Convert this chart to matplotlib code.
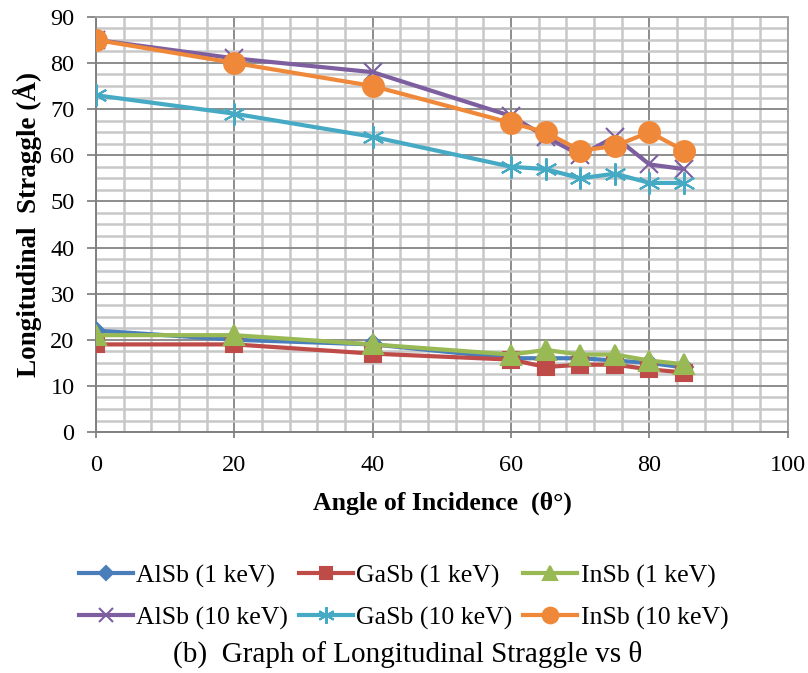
import numpy as np
import matplotlib.pyplot as plt
from matplotlib.ticker import MultipleLocator

plt.rcParams['font.family'] = ['Liberation Serif', 'DejaVu Serif']

angles = [0, 20, 40, 60, 65, 70, 75, 80, 85]

alsb_1 = [22, 20, 19, 16, 16, 16, 15.5, 15, 14]
gasb_1 = [19, 19, 17, 15.7, 14.1, 14.6, 14.6, 13.6, 12.9]
insb_1 = [21, 21, 19, 16.8, 17.8, 16.8, 16.8, 15.5, 14.7]
alsb_10 = [85, 81, 78, 68.5, 64, 60, 64, 58, 57]
gasb_10 = [73, 69, 64, 57.5, 57, 55, 56, 54, 54]
insb_10 = [85, 80, 75, 67, 65, 61, 62, 65, 61]

labels = ['AlSb (1 keV)', 'GaSb (1 keV)', 'InSb (1 keV)',
          'AlSb (10 keV)', 'GaSb (10 keV)', 'InSb (10 keV)']

fig = plt.figure(figsize=(8.08, 6.73), dpi=100)
ax = fig.add_axes([0.119, 0.358, 0.856, 0.617])

# excel style asterisk marker
star = (6, 2, 0)
series = [
    (alsb_1, '#4A7EBB', 'D', 9),
    (gasb_1, '#BE4B48', 's', 12),
    (insb_1, '#98B954', '^', 14),
    (alsb_10, '#7D5FA0', 'x', 13),
    (gasb_10, '#46AAC5', star, 16),
    (insb_10, '#F0883A', 'o', 15),
]

handles = []
for (vals, col, mk, ms), lab in zip(series, labels):
    h, = ax.plot(angles, vals, color=col, lw=3.0, marker=mk, ms=ms,
                 mfc=col, mec=col, mew=1.5, label=lab, zorder=3)
    handles.append(h)

ax.set_xlim(0, 100)
ax.set_ylim(0, 90)
ax.xaxis.set_major_locator(MultipleLocator(20))
ax.xaxis.set_minor_locator(MultipleLocator(4))
ax.yaxis.set_major_locator(MultipleLocator(10))
ax.yaxis.set_minor_locator(MultipleLocator(2.5))
ax.grid(which='minor', color='#c8c8c8', lw=1.8, zorder=0)
ax.grid(which='major', color='#8c8c8c', lw=1.4, zorder=0)
ax.set_axisbelow(True)
ax.tick_params(which='minor', length=0)
ax.tick_params(which='major', width=1.4, color='#8c8c8c', labelsize=17.5)
ax.tick_params(axis='x', length=4.5, pad=12)
ax.tick_params(axis='y', length=6.5, pad=9)
for s in ax.spines.values():
    s.set_color('#a0a0a0')
    s.set_linewidth(1.4)
ax.spines['left'].set_color('#808080')
ax.spines['bottom'].set_color('#808080')

ax.set_xlabel('Angle of Incidence  (θ°)', fontsize=18.5, fontweight='bold',
              labelpad=11)
ax.set_ylabel('Longitudinal  Straggle (Å)', fontsize=19.5, fontweight='bold',
              labelpad=6)

# legend fills column by column, so reorder to read row by row
order = [0, 3, 1, 4, 2, 5]
fig.legend(handles=[handles[i] for i in order],
           labels=[labels[i] for i in order],
           loc='center', bbox_to_anchor=(0.4994, 0.113),
           ncol=3, frameon=False, fontsize=18.5, handlelength=2.1,
           handletextpad=0.15, columnspacing=0.4, labelspacing=0.72,
           markerscale=0.75, borderpad=0.2)

fig.text(0.504, 0.028, '(b)  Graph of Longitudinal Straggle vs θ',
         ha='center', va='center', fontsize=21)

fig.savefig('out.png', dpi=100)
